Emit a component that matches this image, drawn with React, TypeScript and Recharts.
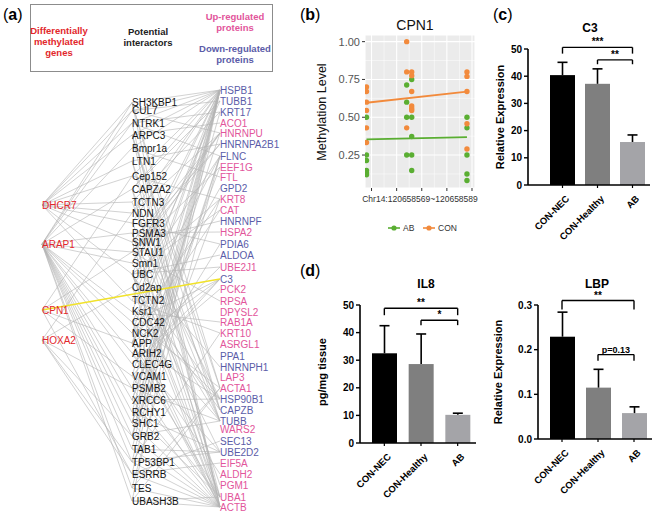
import React from 'react';
import {
  ScatterChart,
  Scatter,
  XAxis,
  YAxis,
  ReferenceLine,
  BarChart,
  Bar,
  CartesianGrid,
} from 'recharts';

const FONT = '"Liberation Sans", Arial, Helvetica, sans-serif';

// ---------------- (a) network ----------------
const methylatedGenes = ['DHCR7', 'ARAP1', 'CPN1', 'HOXA2'];
const methylatedLayoutY = [205, 244, 310, 340];

const interactors = [
  'SH3KBP1', 'CUL7', 'NTRK1', 'ARPC3', 'Bmpr1a', 'LTN1', 'Cep152', 'CAPZA2', 'TCTN3', 'NDN',
  'FGFR3', 'PSMA3', 'SNW1', 'STAU1', 'Smn1', 'UBC', 'Cd2ap', 'TCTN2', 'Ksr1', 'CDC42',
  'NCK2', 'APP', 'ARIH2', 'CLEC4G', 'VCAM1', 'PSMB2', 'XRCC6', 'RCHY1', 'SHC1', 'GRB2',
  'TAB1', 'TP53BP1', 'ESRRB', 'TES', 'UBASH3B',
];
const interactorLayoutY = [
  102.7, 110.7, 123, 135, 148, 161, 176, 189, 202, 213, 223, 233, 242, 252, 263, 274, 287,
  300.7, 311.7, 322, 333, 343, 353, 364, 376, 388, 400, 412, 423, 436, 449, 462, 474, 488, 501,
];

const proteins = [
  'HSPB1', 'TUBB1', 'KRT17', 'ACO1', 'HNRNPU', 'HNRNPA2B1', 'FLNC', 'EEF1G', 'FTL', 'GPD2',
  'KRT8', 'CAT', 'HNRNPF', 'HSPA2', 'PDIA6', 'ALDOA', 'UBE2J1', 'C3', 'PCK2', 'RPSA',
  'DPYSL2', 'RAB1A', 'KRT10', 'ASRGL1', 'PPA1', 'HNRNPH1', 'LAP3', 'ACTA1', 'HSP90B1', 'CAPZB',
  'TUBB', 'WARS2', 'SEC13', 'UBE2D2', 'EIF5A', 'ALDH2', 'PGM1', 'UBA1', 'ACTB',
];
const proteinRegulation = [
  'down', 'down', 'down', 'up', 'up', 'down', 'down', 'up', 'up', 'down',
  'up', 'up', 'down', 'up', 'down', 'down', 'up', 'down', 'up', 'up',
  'up', 'up', 'up', 'up', 'down', 'down', 'up', 'up', 'down', 'down',
  'down', 'up', 'down', 'down', 'up', 'up', 'up', 'up', 'up',
];
const proteinLayoutY = [
  90, 101, 112, 123, 133, 144, 156, 167, 177, 188, 199, 210, 221, 232, 244, 255, 267, 279, 289,
  301, 312, 322, 333, 344, 356, 367, 377, 388, 399, 410, 421, 429, 441, 452, 463, 474, 485, 497, 507,
];

const geneInteractorEdges: [string, string][] = [
  ['DHCR7', 'SH3KBP1'], ['DHCR7', 'CUL7'], ['DHCR7', 'NTRK1'], ['DHCR7', 'ARPC3'], ['DHCR7', 'LTN1'],
  ['DHCR7', 'Cep152'], ['DHCR7', 'TCTN3'], ['DHCR7', 'NDN'], ['DHCR7', 'FGFR3'], ['DHCR7', 'SNW1'],
  ['DHCR7', 'UBC'], ['DHCR7', 'TCTN2'],
  ['ARAP1', 'SH3KBP1'], ['ARAP1', 'NTRK1'], ['ARAP1', 'CUL7'], ['ARAP1', 'Bmpr1a'], ['ARAP1', 'CAPZA2'],
  ['ARAP1', 'PSMA3'], ['ARAP1', 'STAU1'], ['ARAP1', 'Smn1'], ['ARAP1', 'Ksr1'], ['ARAP1', 'CDC42'],
  ['ARAP1', 'NCK2'], ['ARAP1', 'ARIH2'], ['ARAP1', 'CLEC4G'], ['ARAP1', 'PSMB2'], ['ARAP1', 'XRCC6'],
  ['ARAP1', 'RCHY1'], ['ARAP1', 'SHC1'], ['ARAP1', 'GRB2'], ['ARAP1', 'TAB1'], ['ARAP1', 'TP53BP1'],
  ['ARAP1', 'TES'], ['ARAP1', 'UBASH3B'],
  ['CPN1', 'Cep152'], ['CPN1', 'STAU1'], ['CPN1', 'APP'], ['CPN1', 'VCAM1'], ['CPN1', 'ESRRB'],
  ['HOXA2', 'Cd2ap'], ['HOXA2', 'NDN'], ['HOXA2', 'PSMB2'], ['HOXA2', 'GRB2'], ['HOXA2', 'ESRRB'],
  ['HOXA2', 'TP53BP1'],
];

const interactorProteinEdges: [string, string][] = [
  ['SH3KBP1', 'HSPB1'], ['SH3KBP1', 'ACTB'], ['SH3KBP1', 'CAPZB'], ['SH3KBP1', 'ACTA1'],
  ['CUL7', 'HSPB1'], ['CUL7', 'TUBB1'], ['CUL7', 'HNRNPU'],
  ['NTRK1', 'HSPB1'], ['NTRK1', 'FLNC'], ['NTRK1', 'KRT17'], ['NTRK1', 'ACTB'],
  ['ARPC3', 'ACO1'], ['ARPC3', 'HSPB1'], ['ARPC3', 'ACTB'], ['ARPC3', 'CAPZB'], ['ARPC3', 'ACTA1'],
  ['Bmpr1a', 'HSPB1'], ['Bmpr1a', 'FTL'],
  ['LTN1', 'HNRNPA2B1'], ['LTN1', 'TUBB'], ['LTN1', 'UBA1'],
  ['Cep152', 'HSPB1'], ['Cep152', 'KRT8'],
  ['CAPZA2', 'CAPZB'], ['CAPZA2', 'ACTB'], ['CAPZA2', 'HSPB1'], ['CAPZA2', 'TUBB1'],
  ['TCTN3', 'KRT17'], ['TCTN3', 'TUBB'],
  ['NDN', 'HSPB1'], ['NDN', 'HNRNPU'],
  ['FGFR3', 'HSPB1'], ['FGFR3', 'PDIA6'], ['FGFR3', 'HSP90B1'],
  ['PSMA3', 'UBA1'], ['PSMA3', 'HSPA2'], ['PSMA3', 'PGM1'], ['PSMA3', 'TUBB'],
  ['SNW1', 'HNRNPU'], ['SNW1', 'HNRNPF'], ['SNW1', 'HNRNPA2B1'], ['SNW1', 'ACTB'],
  ['STAU1', 'HNRNPU'], ['STAU1', 'RPSA'], ['STAU1', 'HNRNPA2B1'], ['STAU1', 'EEF1G'],
  ['Smn1', 'HNRNPU'], ['Smn1', 'HNRNPH1'], ['Smn1', 'HSPB1'],
  ['UBC', 'HSPB1'], ['UBC', 'UBA1'], ['UBC', 'UBE2D2'], ['UBC', 'UBE2J1'], ['UBC', 'TUBB'],
  ['UBC', 'HSP90B1'], ['UBC', 'ACTB'], ['UBC', 'KRT8'], ['UBC', 'ALDOA'], ['UBC', 'CAT'],
  ['Cd2ap', 'ACTB'], ['Cd2ap', 'CAPZB'], ['Cd2ap', 'FLNC'],
  ['TCTN2', 'TUBB1'], ['TCTN2', 'KRT10'],
  ['Ksr1', 'HSP90B1'], ['Ksr1', 'HSPB1'], ['Ksr1', 'RAB1A'],
  ['CDC42', 'ACTB'], ['CDC42', 'FLNC'], ['CDC42', 'TUBB'], ['CDC42', 'ACTA1'], ['CDC42', 'C3'],
  ['NCK2', 'ACTB'], ['NCK2', 'HSPB1'], ['NCK2', 'KRT8'],
  ['APP', 'HSPB1'], ['APP', 'C3'], ['APP', 'GPD2'], ['APP', 'ALDH2'], ['APP', 'CAT'], ['APP', 'ACTB'], ['APP', 'HSP90B1'],
  ['ARIH2', 'UBE2D2'], ['ARIH2', 'UBA1'], ['ARIH2', 'UBE2J1'],
  ['CLEC4G', 'C3'], ['CLEC4G', 'PCK2'],
  ['VCAM1', 'C3'], ['VCAM1', 'ACTB'], ['VCAM1', 'HSPB1'],
  ['PSMB2', 'HSPB1'], ['PSMB2', 'UBA1'], ['PSMB2', 'PDIA6'], ['PSMB2', 'TUBB'],
  ['XRCC6', 'HNRNPU'], ['XRCC6', 'ACTB'], ['XRCC6', 'HSP90B1'], ['XRCC6', 'EEF1G'],
  ['RCHY1', 'UBE2D2'], ['RCHY1', 'UBA1'], ['RCHY1', 'HSPB1'],
  ['SHC1', 'ACTB'], ['SHC1', 'FLNC'], ['SHC1', 'KRT17'], ['SHC1', 'HSPB1'],
  ['GRB2', 'ACTB'], ['GRB2', 'TUBB'], ['GRB2', 'KRT8'], ['GRB2', 'HSPB1'], ['GRB2', 'FLNC'],
  ['TAB1', 'HSPB1'], ['TAB1', 'UBE2D2'], ['TAB1', 'ACTB'],
  ['TP53BP1', 'HSPB1'], ['TP53BP1', 'KRT10'], ['TP53BP1', 'ACTB'], ['TP53BP1', 'UBE2D2'],
  ['ESRRB', 'ACTB'], ['ESRRB', 'EIF5A'], ['ESRRB', 'SEC13'], ['ESRRB', 'HSPB1'],
  ['TES', 'ACTB'], ['TES', 'FLNC'], ['TES', 'ACTA1'],
  ['UBASH3B', 'ACTB'], ['UBASH3B', 'UBA1'], ['UBASH3B', 'ACTA1'], ['UBASH3B', 'HSPB1'],
];
const highlightedEdge: [string, string] = ['CPN1', 'C3'];

// ---------------- (b) CPN1 methylation ----------------
const cpgTicks = [120658570, 120658575, 120658580, 120658585, 120658590];
const abPos = [
  120658569, 120658569, 120658569, 120658569, 120658569, 120658569,
  120658577, 120658577, 120658577, 120658577,
  120658578, 120658578, 120658578, 120658578, 120658578,
  120658589, 120658589, 120658589, 120658589, 120658589,
];
const abLevel = [
  0.50, 0.25, 0.214, 0.148, 0.132, 0.12,
  0.713, 0.60, 0.50, 0.25,
  0.75, 0.50, 0.373, 0.25, 0.148,
  0.50, 0.43, 0.25, 0.125, 0.082,
];
const conPos = [
  120658569, 120658569, 120658569, 120658569, 120658569, 120658569,
  120658577, 120658577, 120658577,
  120658578, 120658578, 120658578, 120658578, 120658578, 120658578,
  120658589, 120658589, 120658589, 120658589, 120658589,
];
const conLevel = [
  0.70, 0.67, 0.60, 0.545, 0.43, 0.333,
  1.00, 0.80, 0.43,
  0.80, 0.775, 0.67, 0.574, 0.558, 0.545,
  0.80, 0.77, 0.67, 0.457, 0.29,
];
const fitPos = [120658569, 120658589];
const abFitLevel = [0.353, 0.369];
const conFitLevel = [0.596, 0.669];
const methTicks = [0.25, 0.5, 0.75, 1.0];

// ---------------- (c)/(d) bar panels ----------------
const groups = ['CON-NEC', 'CON-Healthy', 'AB'];
const groupColors = ['#000000', '#7f7f7f', '#a4a4a8'];
const c3Mean = [40.4, 37.2, 15.8];
const c3Sem = [4.7, 5.5, 2.6];
const il8Mean = [32.5, 28.6, 10.2];
const il8Sem = [10.0, 10.9, 0.6];
const lbpMean = [0.229, 0.115, 0.058];
const lbpSem = [0.055, 0.041, 0.014];

const C_RED = '#e2272c';
const C_PINK = '#e2559b';
const C_BLUE = '#5b5ca8';
const C_GREEN = '#5aae32';
const C_ORANGE = '#f28a3c';

type Node = { name: string; x: number; y: number; color: string };
const leftNodes: Node[] = methylatedGenes.map((n, i) => ({ name: n, x: 42, y: methylatedLayoutY[i], color: C_RED }));
const midNodes: Node[] = interactors.map((n, i) => ({ name: n, x: 132, y: interactorLayoutY[i], color: '#141414' }));
const rightNodes: Node[] = proteins.map((n, i) => ({
  name: n, x: 220, y: proteinLayoutY[i], color: proteinRegulation[i] === 'up' ? C_PINK : C_BLUE,
}));
const nodeMap: Record<string, Node> = {};
[...leftNodes, ...midNodes, ...rightNodes].forEach((n) => { nodeMap[n.name] = n; });
const allEdges = [...geneInteractorEdges, ...interactorProteinEdges];

const NodeLabel = (props: any) => {
  const { cx, cy, payload } = props;
  if (cx == null) return <g />;
  return (
    <text x={cx} y={cy} dy={3.6} fontSize={10} fontFamily={FONT} fill={payload.color}>
      {payload.name}
    </text>
  );
};

function NetworkPanel() {
  return (
    <ScatterChart width={290} height={514} margin={{ top: 0, right: 0, bottom: 0, left: 0 }}>
      <XAxis type="number" dataKey="x" domain={[0, 290]} hide />
      <YAxis type="number" dataKey="y" domain={[0, 514]} reversed hide />
      {allEdges.map(([a, b], i) => (
        <ReferenceLine
          key={'e' + i}
          segment={[{ x: nodeMap[a].x, y: nodeMap[a].y }, { x: nodeMap[b].x, y: nodeMap[b].y }]}
          stroke="#b4b4b4"
          strokeWidth={0.6}
          ifOverflow="visible"
        />
      ))}
      <ReferenceLine
        segment={[
          { x: nodeMap[highlightedEdge[0]].x, y: nodeMap[highlightedEdge[0]].y },
          { x: nodeMap[highlightedEdge[1]].x, y: nodeMap[highlightedEdge[1]].y },
        ]}
        stroke="#f1e22a"
        strokeWidth={1.6}
        ifOverflow="visible"
      />
      <Scatter data={leftNodes} shape={NodeLabel} isAnimationActive={false} />
      <Scatter data={midNodes} shape={NodeLabel} isAnimationActive={false} />
      <Scatter data={rightNodes} shape={NodeLabel} isAnimationActive={false} />
    </ScatterChart>
  );
}

// ---------------- (b) ----------------
const abPoints = abPos.map((p, i) => ({ pos: p, level: abLevel[i] }));
const conPoints = conPos.map((p, i) => ({ pos: p, level: conLevel[i] }));
const abFit = fitPos.map((p, i) => ({ pos: p, level: abFitLevel[i] }));
const conFit = fitPos.map((p, i) => ({ pos: p, level: conFitLevel[i] }));

const dot = (color: string) => (props: any) =>
  props.cx == null ? <g /> : <circle cx={props.cx} cy={props.cy} r={2.7} fill={color} />;
const noDot = () => <g />;

function MethylationPanel() {
  const minorX = [120658572.5, 120658577.5, 120658582.5, 120658587.5];
  const minorY = [0.125, 0.375, 0.625, 0.875];
  return (
    <ScatterChart width={200} height={240} margin={{ top: 35, right: 15, bottom: 32, left: 40 }}>
      <CartesianGrid fill="#ebebeb" stroke="#ffffff" strokeWidth={1.1} />
      {minorX.map((v) => (
        <ReferenceLine key={'mx' + v} x={v} stroke="#ffffff" strokeWidth={0.5} />
      ))}
      {minorY.map((v) => (
        <ReferenceLine key={'my' + v} y={v} stroke="#ffffff" strokeWidth={0.5} />
      ))}
      <XAxis
        type="number"
        dataKey="pos"
        domain={[120658568.7, 120658590.6]}
        ticks={cpgTicks}
        tickFormatter={() => ''}
        axisLine={false}
        tickLine={{ stroke: '#333' }}
        tickSize={3}
        height={20}
        allowDataOverflow
      />
      <YAxis
        type="number"
        dataKey="level"
        domain={[0.032, 1.044]}
        ticks={methTicks}
        tickFormatter={(v: number) => v.toFixed(2)}
        axisLine={false}
        tickLine={{ stroke: '#333' }}
        tickSize={3}
        width={35}
        tick={{ fill: '#555', fontSize: 11, fontFamily: FONT }}
        allowDataOverflow
      />
      <Scatter data={abPoints} shape={dot(C_GREEN)} isAnimationActive={false} />
      <Scatter data={conPoints} shape={dot(C_ORANGE)} isAnimationActive={false} />
      <Scatter data={abFit} shape={noDot} line={{ stroke: C_GREEN, strokeWidth: 1.8 }} isAnimationActive={false} />
      <Scatter data={conFit} shape={noDot} line={{ stroke: C_ORANGE, strokeWidth: 1.8 }} isAnimationActive={false} />
    </ScatterChart>
  );
}

// ---------------- bar panels ----------------
const BarShape = (props: any) => {
  const { x, y, width, height, payload } = props;
  if (x == null || !payload) return <g />;
  const unit = payload.mean ? height / payload.mean : 0;
  const top = y - payload.sem * unit;
  const cx = x + width / 2;
  return (
    <g>
      <rect x={x} y={y} width={width} height={height} fill={payload.color} />
      <line x1={cx} x2={cx} y1={y} y2={top} stroke="#000" strokeWidth={1.6} />
      <line x1={cx - 5} x2={cx + 5} y1={top} y2={top} stroke="#000" strokeWidth={1.6} />
    </g>
  );
};

const RotTick = (props: any) => {
  const { x, y, payload } = props;
  return (
    <g transform={`translate(${x + 5},${y + 7}) rotate(-45)`}>
      <text x={0} y={0} dy="0.35em" textAnchor="end" fontSize={9.5} fontWeight="bold" fontFamily={FONT} fill="#000">
        {payload.value}
      </text>
    </g>
  );
};

type Bracket = { from: string; to: string; y: number; drop: number; label: string };

function BarPanel(props: {
  width: number; height: number;
  margin: { top: number; right: number; bottom: number; left: number };
  xHeight: number; padLeft: number;
  mean: number[]; sem: number[];
  domain: [number, number]; ticks: number[]; fmt: (v: number) => string;
  brackets: Bracket[];
}) {
  const data = groups.map((g, i) => ({ group: g, mean: props.mean[i], sem: props.sem[i], color: groupColors[i] }));
  return (
    <BarChart width={props.width} height={props.height} data={data} margin={props.margin} barCategoryGap={0}>
      <XAxis
        dataKey="group"
        type="category"
        padding={{ left: props.padLeft, right: 0 }}
        axisLine={{ stroke: '#000', strokeWidth: 1.6 }}
        tickLine={{ stroke: '#000', strokeWidth: 1.2 }}
        tickSize={3}
        height={props.xHeight}
        interval={0}
        tick={RotTick}
      />
      <YAxis
        type="number"
        domain={props.domain}
        ticks={props.ticks}
        tickFormatter={props.fmt}
        axisLine={{ stroke: '#000', strokeWidth: 1.6 }}
        tickLine={{ stroke: '#000', strokeWidth: 1.4 }}
        tickSize={4}
        width={30}
        tick={{ fill: '#000', fontSize: 10, fontWeight: 'bold', fontFamily: FONT }}
        allowDataOverflow
      />
      <Bar dataKey="mean" barSize={25} shape={BarShape} isAnimationActive={false} />
      {props.brackets.map((b, i) => (
        <ReferenceLine
          key={'bh' + i}
          segment={[{ x: b.from, y: b.y }, { x: b.to, y: b.y }]}
          stroke="#000"
          strokeWidth={1.4}
          ifOverflow="visible"
          label={{ value: b.label, position: 'top', offset: 2, fontSize: b.label.startsWith('p') ? 9 : 10, fontWeight: 'bold', fill: '#000', fontFamily: FONT }}
        />
      ))}
      {props.brackets.map((b, i) => (
        <ReferenceLine
          key={'bl' + i}
          segment={[{ x: b.from, y: b.y }, { x: b.from, y: b.y - b.drop }]}
          stroke="#000"
          strokeWidth={1.4}
          ifOverflow="visible"
        />
      ))}
      {props.brackets.map((b, i) => (
        <ReferenceLine
          key={'br' + i}
          segment={[{ x: b.to, y: b.y }, { x: b.to, y: b.y - b.drop }]}
          stroke="#000"
          strokeWidth={1.4}
          ifOverflow="visible"
        />
      ))}
    </BarChart>
  );
}

const c3Brackets: Bracket[] = [
  { from: 'CON-NEC', to: 'AB', y: 50.6, drop: 2.3, label: '***' },
  { from: 'CON-Healthy', to: 'AB', y: 46, drop: 1.6, label: '**' },
];
const il8Brackets: Bracket[] = [
  { from: 'CON-NEC', to: 'AB', y: 48.8, drop: 2.5, label: '**' },
  { from: 'CON-Healthy', to: 'AB', y: 44.5, drop: 1.8, label: '*' },
];
const lbpBrackets: Bracket[] = [
  { from: 'CON-NEC', to: 'AB', y: 0.31, drop: 0.02, label: '**' },
  { from: 'CON-Healthy', to: 'AB', y: 0.189, drop: 0.014, label: 'p=0.13' },
];

const PanelLabel = ({ x, y, letter }: { x: number; y: number; letter: string }) => (
  <text x={x} y={y} fontSize={16} fontFamily={FONT} fill="#000">
    (<tspan fontWeight="bold">{letter}</tspan>)
  </text>
);

export default function App() {
  return (
    <div style={{ position: 'absolute', left: 0, top: 0, width: 660, height: 514, background: '#fff', overflow: 'hidden', fontFamily: FONT }}>
      <div style={{ position: 'absolute', left: 0, top: 0 }}>
        <NetworkPanel />
      </div>
      <div style={{ position: 'absolute', left: 290, top: 0 }}>
        <MethylationPanel />
      </div>
      <div style={{ position: 'absolute', left: 480, top: 0 }}>
        <BarPanel
          width={180} height={250}
          margin={{ top: 49, right: 10, bottom: 15, left: 18 }}
          xHeight={50} padLeft={17}
          mean={c3Mean} sem={c3Sem}
          domain={[0, 50]} ticks={[0, 10, 20, 30, 40, 50]} fmt={(v) => String(v)}
          brackets={c3Brackets}
        />
      </div>
      <div style={{ position: 'absolute', left: 290, top: 250 }}>
        <BarPanel
          width={190} height={264}
          margin={{ top: 55, right: 4, bottom: 11, left: 40 }}
          xHeight={60} padLeft={6}
          mean={il8Mean} sem={il8Sem}
          domain={[0, 50]} ticks={[0, 10, 20, 30, 40, 50]} fmt={(v) => String(v)}
          brackets={il8Brackets}
        />
      </div>
      <div style={{ position: 'absolute', left: 480, top: 250 }}>
        <BarPanel
          width={180} height={264}
          margin={{ top: 55, right: 8, bottom: 15, left: 28 }}
          xHeight={60} padLeft={6}
          mean={lbpMean} sem={lbpSem}
          domain={[0, 0.3]} ticks={[0, 0.1, 0.2, 0.3]} fmt={(v) => v.toFixed(1)}
          brackets={lbpBrackets}
        />
      </div>
      <svg width={660} height={514} style={{ position: 'absolute', left: 0, top: 0, pointerEvents: 'none' }}>
        <PanelLabel x={3} y={20} letter="a" />
        <PanelLabel x={300} y={20} letter="b" />
        <PanelLabel x={493} y={20} letter="c" />
        <PanelLabel x={300} y={276} letter="d" />

        <rect x={30.5} y={4.5} width={242} height={67} fill="none" stroke="#8c8c8c" strokeWidth={1} />
        <g fontFamily={FONT} fontSize={9.5} fontWeight="bold" textAnchor="middle">
          <text x={59} y={34} fill={C_RED}>Differentially</text>
          <text x={59} y={45} fill={C_RED}>methylated</text>
          <text x={59} y={56} fill={C_RED}>genes</text>
          <text x={148} y={35} fill="#222">Potential</text>
          <text x={148} y={46} fill="#222">interactors</text>
          <text x={235} y={20} fill={C_PINK}>Up-regulated</text>
          <text x={235} y={31} fill={C_PINK}>proteins</text>
          <text x={235} y={52} fill={C_BLUE}>Down-regulated</text>
          <text x={235} y={63} fill={C_BLUE}>proteins</text>
        </g>

        <text x={415} y={30} fontSize={14} fontFamily={FONT} textAnchor="middle" fill="#111">CPN1</text>
        <text transform="translate(326,112) rotate(-90)" fontSize={12.5} fontFamily={FONT} textAnchor="middle" fill="#111">Methylation Level</text>
        <text x={420} y={202} fontSize={8.5} fontFamily={FONT} textAnchor="middle" fill="#333">Chr14:120658569~120658589</text>
        <line x1={388} x2={400} y1={228} y2={228} stroke={C_GREEN} strokeWidth={1.6} />
        <circle cx={394} cy={228} r={2.6} fill={C_GREEN} />
        <text x={403} y={231} fontSize={8.5} fontFamily={FONT} fill="#333">AB</text>
        <line x1={423} x2={435} y1={228} y2={228} stroke={C_ORANGE} strokeWidth={1.6} />
        <circle cx={429} cy={228} r={2.6} fill={C_ORANGE} />
        <text x={438} y={231} fontSize={8.5} fontFamily={FONT} fill="#333">CON</text>

        <text x={590} y={32} fontSize={12} fontWeight="bold" fontFamily={FONT} textAnchor="middle">C3</text>
        <text transform="translate(504,117) rotate(-90)" fontSize={11} fontWeight="bold" fontFamily={FONT} textAnchor="middle">Relative Expression</text>

        <text x={426} y={288} fontSize={12} fontWeight="bold" fontFamily={FONT} textAnchor="middle">IL8</text>
        <text transform="translate(326,372) rotate(-90)" fontSize={11} fontWeight="bold" fontFamily={FONT} textAnchor="middle">pg/mg tissue</text>
        <text x={597} y={288} fontSize={12} fontWeight="bold" fontFamily={FONT} textAnchor="middle">LBP</text>
        <text transform="translate(502,372) rotate(-90)" fontSize={11} fontWeight="bold" fontFamily={FONT} textAnchor="middle">Relative Expression</text>
      </svg>
    </div>
  );
}
